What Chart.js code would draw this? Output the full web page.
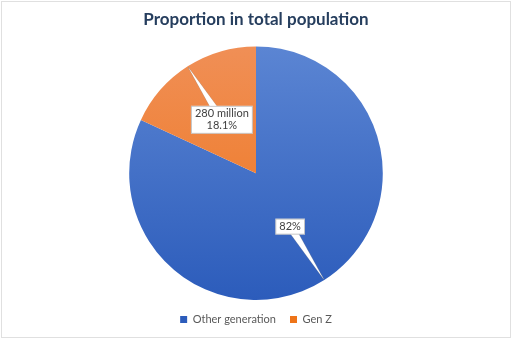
<!DOCTYPE html>
<html><head><meta charset="utf-8">
<script src="https://cdn.jsdelivr.net/npm/chart.js@4/dist/chart.umd.min.js"></script>
<style>html,body{margin:0;padding:0;background:#fff}#wrap{width:512px;height:339px}</style>
</head><body><div id="wrap"><canvas id="c" width="512" height="339"></canvas></div>
<script>
const categories = ["Other generation", "Gen Z"];
const values = [81.9, 18.1];
const pointLabels = [["82%"], ["280 million", "18.1%"]];
const titleText = "Proportion in total population";

function grad(ctx, area, top, bottom) {
  const g = ctx.createLinearGradient(0, area.top, 0, area.bottom);
  g.addColorStop(0, top); g.addColorStop(1, bottom);
  return g;
}
const gradColors = [["#5B85D3", "#2C5CBB"], ["#F08F56", "#EE7419"]];

const calloutPlugin = {
  id: 'callouts',
  afterDatasetsDraw(chart) {
    const ctx = chart.ctx;
    const meta = chart.getDatasetMeta(0);
    meta.data.forEach((arc, i) => {
      const p = arc.getProps(['x','y','startAngle','endAngle','outerRadius'], true);
      const mid = (p.startAngle + p.endAngle) / 2;
      const lines = pointLabels[i];
      const bx = p.x + Math.cos(mid) * p.outerRadius * 0.5;
      const by = p.y + Math.sin(mid) * p.outerRadius * 0.5;
      const tx = p.x + Math.cos(mid) * (p.outerRadius - 1);
      const ty = p.y + Math.sin(mid) * (p.outerRadius - 1);
      ctx.save();
      ctx.font = '11px Lato, sans-serif';
      let w = 0; lines.forEach(l => { w = Math.max(w, ctx.measureText(l).width); });
      const lh = 12;
      const bw = w + 8, bh = lines.length * lh + 4;
      const ang = Math.atan2(ty - by, tx - bx);
      const px = Math.cos(ang + Math.PI/2) * 4, py = Math.sin(ang + Math.PI/2) * 4;
      ctx.beginPath();
      ctx.moveTo(bx + px, by + py);
      ctx.lineTo(tx, ty);
      ctx.lineTo(bx - px, by - py);
      ctx.closePath();
      ctx.fillStyle = '#fff';
      ctx.strokeStyle = 'rgba(140,140,140,0.6)';
      ctx.lineWidth = 0.8;
      ctx.stroke(); ctx.fill();
      ctx.fillRect(bx - bw/2, by - bh/2, bw, bh);
      ctx.strokeRect(bx - bw/2 + 0.5, by - bh/2 + 0.5, bw - 1, bh - 1);
      ctx.fillStyle = '#404040';
      ctx.textAlign = 'center'; ctx.textBaseline = 'middle';
      lines.forEach((l, k) => ctx.fillText(l, bx, by - bh/2 + 2 + lh/2 + k*lh));
      ctx.restore();
    });
  }
};
const borderPlugin = {
  id: 'border',
  afterDraw(chart) {
    const ctx = chart.ctx;
    ctx.save(); ctx.strokeStyle = '#e0e0e0'; ctx.lineWidth = 1;
    ctx.strokeRect(1.5, 1.5, chart.width - 3, chart.height - 3);
    ctx.restore();
  }
};

new Chart(document.getElementById('c'), {
  type: 'pie',
  data: {
    labels: categories,
    datasets: [{
      data: values,
      backgroundColor: (c) => {
        const a = c.chart.chartArea; if (!a) return gradColors[c.dataIndex][0];
        return grad(c.chart.ctx, a, gradColors[c.dataIndex][0], gradColors[c.dataIndex][1]);
      },
      borderWidth: 0
    }]
  },
  options: {
    responsive: false, animation: false,
    layout: { padding: { top: 0, bottom: 4, left: 0, right: 0 } },
    plugins: {
      title: { display: true, text: titleText, color: '#263E5E',
        font: { family: 'Lato, sans-serif', size: 17, weight: 'bold' }, padding: { top: 9, bottom: 17 } },
      legend: { position: 'bottom',
        labels: { boxWidth: 7, boxHeight: 7, color: '#595959', padding: 14,
          font: { family: 'Lato, sans-serif', size: 11 } } },
      tooltip: { enabled: false }
    }
  },
  plugins: [calloutPlugin, borderPlugin]
});
</script></body></html>
